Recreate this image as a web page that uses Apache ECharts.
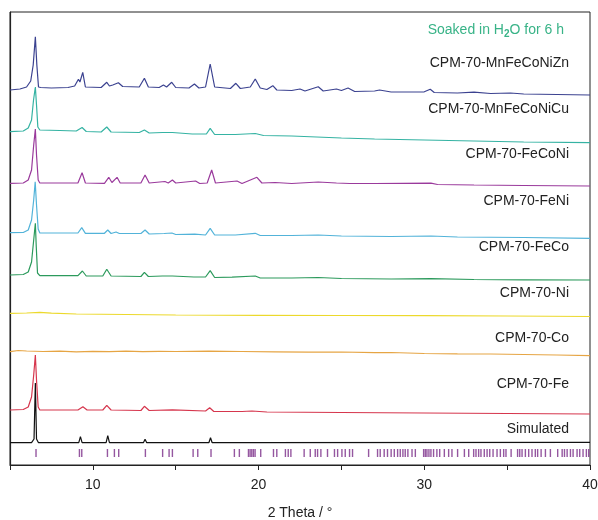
<!DOCTYPE html>
<html><head><meta charset="utf-8">
<script src="https://cdn.jsdelivr.net/npm/echarts@6/dist/echarts.min.js"></script>
<style>html,body{margin:0;padding:0;background:#fff}#c{width:598px;height:520px}</style>
</head><body><div id="c"></div>
<script>
// 2θ (°) vs. stacked intensity (arbitrary units, offset patterns)
const names = ['CPM-70-MnFeCoNiZn','CPM-70-MnFeCoNiCu','CPM-70-FeCoNi','CPM-70-FeNi','CPM-70-FeCo','CPM-70-Ni','CPM-70-Co','CPM-70-Fe','Simulated'];
const xTicks = [10, 20, 30, 40];

const mnFeCoNiZn = [[5,375],[5.6,376],[6.0,378],[6.25,384],[6.4,400],[6.53,428.3],[6.62,400],[6.72,378],[6.85,377.5],[7.5,377],[8.5,377.5],[8.9,379],[9.13,385.7],[9.22,383],[9.39,392.7],[9.55,378],[10.5,377.5],[10.84,382.7],[11.0,379],[11.2,380],[11.54,382.3],[11.8,378.5],[12.8,378],[13.11,386.7],[13.35,378],[14.0,377.5],[14.26,380],[14.45,378],[14.76,382.7],[15.0,377.5],[15.8,377],[16.13,381],[16.4,377],[16.8,378],[17.08,401],[17.35,378],[18.3,376.5],[18.63,381.7],[18.9,376.5],[19.5,378],[19.8,386],[20.1,377],[20.5,375.5],[20.86,379.3],[21.1,375],[22,374.5],[22.5,376],[22.8,374],[23.6,378.3],[23.9,374],[24.7,376],[25.0,374.5],[25.4,377],[25.8,373.5],[27,374],[27.3,375],[28,373],[30.0,373.2],[30.36,375.7],[30.6,372.5],[32,372],[33,372.8],[34,371.5],[35.2,372],[36,371],[38,370.5],[40,370]];
const mnFeCoNiCu = [[5,333.3],[5.8,334],[6.1,337],[6.3,345],[6.42,365],[6.53,378],[6.6,360],[6.68,338],[6.8,335],[8,334.5],[9.0,334],[9.35,337.5],[9.6,333.5],[10.5,333],[10.84,338],[11.1,333],[12.8,332.5],[13.11,335],[13.4,332],[14.2,332.5],[14.8,332.5],[16,331],[16.85,331],[17.08,336.7],[17.35,330.5],[18.6,330.5],[19.8,331.5],[20.3,329.5],[22,329],[25,327],[27,326],[30,325],[33,324],[36,323],[40,322.3]];
const feCoNi = [[5,281.7],[5.8,282],[6.1,285],[6.3,295],[6.43,320],[6.53,336],[6.6,310],[6.7,285],[6.8,282],[9.1,282],[9.35,292.3],[9.55,282],[10.7,281.7],[10.96,287.7],[11.15,282.5],[11.46,287.7],[11.65,282],[12.9,282],[13.15,290],[13.4,282],[14.35,283.5],[14.55,282],[14.8,285],[15.0,282],[16.2,284],[16.45,281.5],[16.9,282],[17.17,295],[17.4,282],[18.7,284],[19.0,281.5],[19.9,287.7],[20.2,282],[21,282.5],[22,281.5],[23.6,283],[24.7,282],[25.5,281.5],[27,281.5],[30.4,281.8],[30.8,280.5],[33,280],[36,279.5],[40,279]];
const feNi = [[5,232.3],[5.8,232.5],[6.1,235],[6.3,245],[6.43,265],[6.52,283.3],[6.6,260],[6.7,236],[6.8,232],[9.1,232],[9.33,237.3],[9.55,231.7],[10.7,231.7],[10.9,235],[11.1,231.5],[11.4,233],[11.6,231.5],[12.9,231.5],[13.15,235],[13.4,231],[14.3,231.5],[14.77,232],[15,230.5],[16.15,230.8],[16.8,230],[17.08,236.7],[17.35,230],[18.6,230],[19.8,231.7],[20.1,229.5],[22,229.5],[23.6,230],[25,229],[28,228.5],[30.4,229],[32,228],[36,227.5],[40,226.7]];
const feCo = [[5,190],[5.8,190.5],[6.1,193],[6.3,203],[6.43,225],[6.53,241.7],[6.58,220],[6.66,192],[6.8,189.3],[9.1,189.3],[9.37,194],[9.6,189],[10.6,189],[10.84,195.7],[11.1,189],[12.9,188.5],[13.11,192.7],[13.35,188.5],[14.2,189],[14.8,189],[16.1,188],[16.8,188],[17.08,194.3],[17.35,187.5],[18.4,187.8],[19.8,189],[20.1,187],[22,187],[23.6,187.5],[25,186.5],[28,186],[30.4,186.3],[33,185.5],[36,185.2],[40,185]];
const ni = [[5,151.7],[6.0,152],[6.8,152.7],[7.5,151.8],[9,151],[12,150.5],[15,150],[20,149.7],[25,149.5],[30,149.3],[35,149],[40,148.5]];
const co = [[5,113.3],[5.5,114.5],[6,114],[7,113.5],[8,113.8],[9,113.2],[10,113.6],[11,113.3],[12,113.8],[13,113.4],[14,113.6],[15,113.5],[17,113.8],[19,113.5],[21,113.2],[23,112.8],[25,113],[27,112.3],[28,112.5],[30,111.5],[32,111.2],[34,111],[36,110.5],[38,110],[40,109.3]];
const fe = [[5,55],[5.8,55.5],[6.1,58],[6.3,68],[6.43,90],[6.53,110],[6.6,85],[6.7,58],[6.8,55],[9.1,55],[9.4,58.3],[9.65,55],[10.6,55],[10.84,59.7],[11.1,55],[12.9,54.5],[13.11,58.7],[13.4,54.5],[14.8,55.2],[16.8,54],[17.05,57.3],[17.3,53.5],[19,53.5],[19.6,54],[20.5,53],[25,52.5],[30,52],[35,51.5],[40,51]];
const simulated = [[5,22.3],[6.3,22.3],[6.45,26],[6.53,82],[6.6,26],[6.72,22.3],[9.15,22.3],[9.25,28.3],[9.35,22.3],[10.8,22.3],[10.9,29.3],[11.0,22.3],[13.05,22.3],[13.15,25.7],[13.25,22.3],[14.15,22.3],[14.2,23.7],[14.25,22.3],[14.75,22.3],[14.8,23.5],[14.85,22.3],[17.0,22.3],[17.1,27.3],[17.2,22.3],[18.55,22.3],[18.6,23.5],[18.65,22.3],[19.55,22.3],[19.6,23.2],[19.65,22.3],[40,22.7]];
// Bragg reflection positions (2θ)
const reflections = [6.57,9.19,9.33,10.88,11.30,11.56,13.17,14.21,14.6,14.8,16.05,16.33,17.13,18.54,18.84,19.39,19.49,19.59,19.69,19.79,20.13,20.9,21.1,21.62,21.79,21.95,22.75,23.12,23.42,23.56,23.76,24.16,24.58,24.77,25.03,25.23,25.49,25.67,26.64,27.18,27.34,27.58,27.78,28.0,28.19,28.39,28.55,28.71,28.85,29.01,29.26,29.46,29.96,30.06,30.16,30.28,30.4,30.56,30.76,30.93,31.21,31.47,31.67,32.01,32.42,32.68,32.98,33.12,33.28,33.42,33.62,33.79,33.95,34.15,34.39,34.59,34.79,34.93,35.24,35.63,35.76,35.9,36.1,36.3,36.5,36.7,36.84,37.05,37.31,37.61,38.05,38.32,38.46,38.62,38.82,38.98,39.22,39.38,39.58,39.78,39.92];
const tickRowLevel = 12;

const patterns = [mnFeCoNiZn, mnFeCoNiCu, feCoNi, feNi, feCo, ni, co, fe, simulated];
const colors = ['#3b4290','#35b3a3','#9a3a9c','#52b3d9','#2c9a5c','#ecd92c','#e6a544','#d6364d','#111111'];
const labelY = [63.7,110,155.3,202,248,293.7,339.3,384.7,430.5];
const FONT = '"Liberation Sans", Arial, sans-serif';

const series = patterns.slice().reverse().map((d, k) => {
  const i = patterns.length - 1 - k;
  return {type:'line', name:names[i], data:d, showSymbol:false, silent:true,
    lineStyle:{color:colors[i], width:1.2}, z:3+k};
});
series.push({type:'scatter', data:reflections.map(v=>[v,tickRowLevel]), symbol:'rect',
  symbolSize:[1.4,8], itemStyle:{color:'#7b2d88'}, silent:true});

const chart = echarts.init(document.getElementById('c'));
chart.setOption({
  animation:false,
  title:{text:'Soaked in H{s|2}O for 6 h', right:29, top:17,
    textStyle:{color:'#38b387', fontSize:14, fontWeight:'normal', fontFamily:FONT,
      rich:{s:{fontSize:10, fontWeight:'bold', color:'#38b387', fontFamily:FONT, padding:[7,0,0,0]}}}},
  grid:{left:10, right:8, top:12, bottom:55, show:true, borderColor:'#222', borderWidth:1,
    containLabel:false, outerBoundsMode:'none'},
  xAxis:{type:'value', min:5, max:40, interval:5,
    name:'2 Theta / °', nameLocation:'middle', nameGap:41,
    nameTextStyle:{fontSize:14, color:'#222', fontFamily:FONT},
    axisLine:{lineStyle:{color:'#222', width:1.2}},
    axisTick:{length:5, lineStyle:{color:'#222'}},
    axisLabel:{fontSize:14, color:'#222', fontFamily:FONT, margin:13,
      formatter:v => xTicks.includes(v) ? String(v) : ''},
    splitLine:{show:false}},
  yAxis:{type:'value', min:0, max:453, axisLine:{show:true, lineStyle:{color:'#222', width:1.2}},
    axisTick:{show:false}, axisLabel:{show:false}, splitLine:{show:false}},
  graphic: names.map((n,i)=>({type:'text', right:29, top:labelY[i]-8,
    style:{text:n, fill:'#222', fontSize:14, fontFamily:FONT}})),
  series
});
</script></body></html>
